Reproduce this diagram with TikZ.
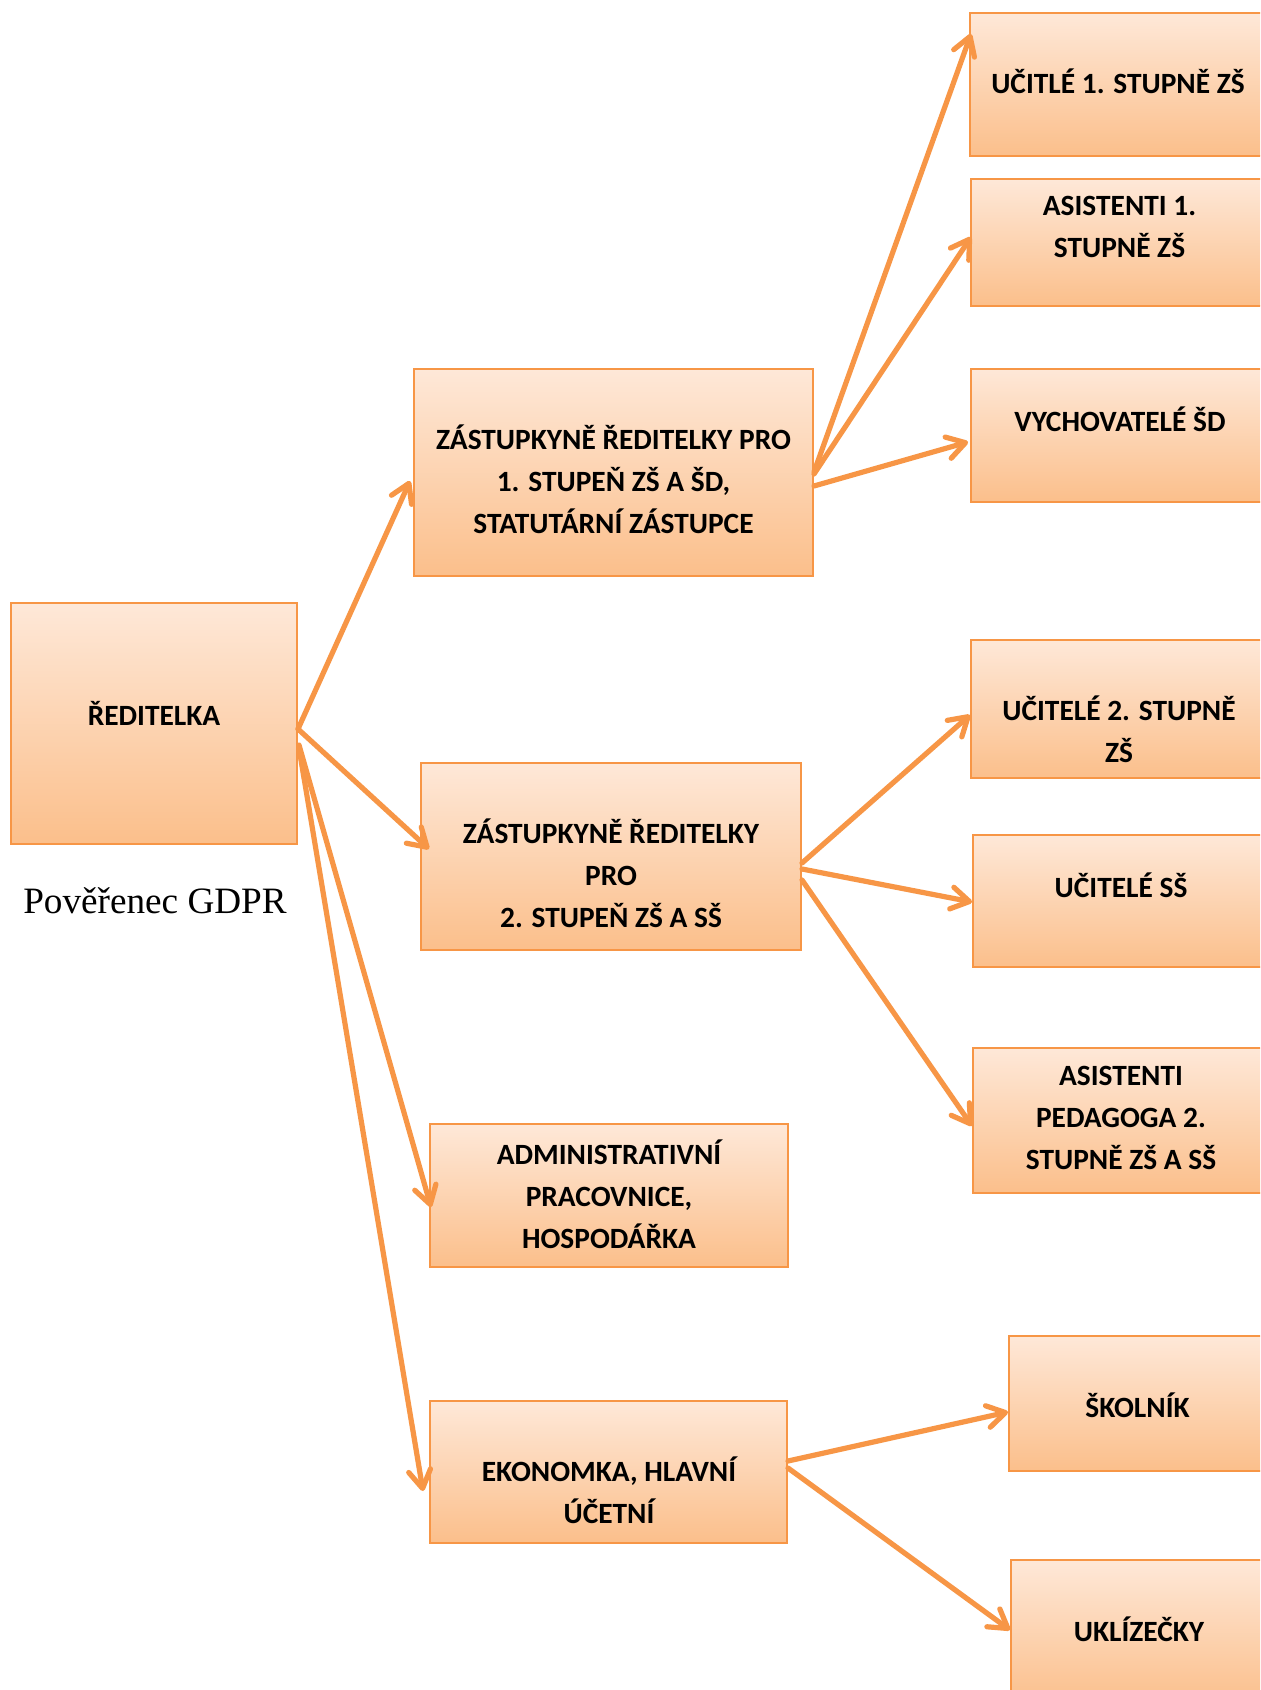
\documentclass[tikz,border=0pt]{standalone}
\usepackage{fontspec}
\setmainfont{Liberation Serif}
\newfontfamily\unitfont{Carlito}
\usetikzlibrary{arrows.meta, fit, calc}
\definecolor{orgline}{HTML}{F79646}
\definecolor{orgtop}{HTML}{FEE8D8}
\definecolor{orgbottom}{HTML}{FBBF8B}

\begin{document}
\begin{tikzpicture}[x=0.5pt, y=-0.5pt,
  unitbox/.style={draw=orgline, line width=1pt, top color=orgtop, bottom color=orgbottom, inner sep=0pt},
  unittext/.style={font=\unitfont\bfseries\fontsize{14.7}{21}\selectfont, align=center, inner sep=0pt},
  link/.style={draw=orgline, line width=2.6pt, line cap=round, -{Straight Barb[length=9pt, width=11pt, round]}}]
\useasboundingbox (0,0) rectangle (1260,1690);
\clip (0,0) rectangle (1260,1690);
\fill[white] (0,0) rectangle (1260,1690);

% boxes
\node[unitbox, fit={(11,603) (297,844)}] (red) {};
\node[unitbox, fit={(414,369) (813,576)}] (zast1) {};
\node[unitbox, fit={(421,763) (801,950)}] (zast2) {};
\node[unitbox, fit={(430,1124) (788,1267)}] (admin) {};
\node[unitbox, fit={(430,1401) (787,1543)}] (ekon) {};
\node[unitbox, fit={(970,13) (1268,156)}] (ucit1) {};
\node[unitbox, fit={(971,179) (1268,306)}] (asist1) {};
\node[unitbox, fit={(971,369) (1268,502)}] (vych) {};
\node[unitbox, fit={(971,640) (1268,778)}] (ucit2) {};
\node[unitbox, fit={(973,835) (1269,967)}] (ucitss) {};
\node[unitbox, fit={(973,1048) (1269,1193)}] (asped) {};
\node[unitbox, fit={(1009,1336) (1267,1471)}] (skol) {};
\node[unitbox, fit={(1011,1560) (1268,1705)}] (ukl) {};

% texts
\node[unittext] (redt) at (154,713) {ŘEDITELKA};
\node[unittext] (zast1t) at (613.5,479) {ZÁSTUPKYNĚ ŘEDITELKY PRO\\1. STUPEŇ ZŠ A ŠD,\\STATUTÁRNÍ ZÁSTUPCE};
\node[unittext] (zast2t) at (611,873) {ZÁSTUPKYNĚ ŘEDITELKY\\PRO\\2. STUPEŇ ZŠ A SŠ};
\node[unittext] (admint) at (609,1194) {ADMINISTRATIVNÍ\\PRACOVNICE,\\HOSPODÁŘKA};
\node[unittext] (ekont) at (609,1490) {EKONOMKA, HLAVNÍ\\ÚČETNÍ};
\node[unittext] (ucit1t) at (1118,81) {UČITLÉ 1. STUPNĚ ZŠ};
\node[unittext] (asist1t) at (1119.5,227) {ASISTENTI 1.\\STUPNĚ ZŠ};
\node[unittext] (vycht) at (1120,419) {VYCHOVATELÉ ŠD};
\node[unittext] (ucit2t) at (1119,729) {UČITELÉ 2. STUPNĚ\\ZŠ};
\node[unittext] (ucitsst) at (1121,885) {UČITELÉ SŠ};
\node[unittext] (aspedt) at (1121,1118) {ASISTENTI\\PEDAGOGA 2.\\STUPNĚ ZŠ A SŠ};
\node[unittext] (skolt) at (1137.5,1405) {ŠKOLNÍK};
\node[unittext] (uklt) at (1139,1629) {UKLÍZEČKY};
\node[font=\fontsize{18.6}{22}\selectfont, anchor=base, inner sep=0pt] (gdpr) at (155,913) {Pověřenec GDPR};

% arrows
\draw[link] ($(red.north east)+(0,127)$) -- ($(zast1.north west)+(-3,113)$);
\draw[link] ($(red.north east)+(0,127)$) -- ($(zast2.north west)+(9,87)$);
\draw[link] ($(red.north east)+(1,143)$) -- ($(admin.north west)+(2,84)$);
\draw[link] ($(red.north east)+(1,146)$) -- ($(ekon.north west)+(-6,91)$);
\draw[link] ($(zast1.north east)+(0,104)$) -- ($(ucit1.north west)+(2,22)$);
\draw[link] ($(zast1.north east)+(0,106)$) -- ($(asist1.north west)+(1,59)$);
\draw[link] ($(zast1.north east)+(0,118)$) -- ($(vych.north west)+(-2,74)$);
\draw[link] ($(zast2.north east)+(0,101)$) -- ($(ucit2.north west)+(0,76)$);
\draw[link] ($(zast2.north east)+(0,107)$) -- ($(ucitss.north west)+(0,68)$);
\draw[link] ($(zast2.north east)+(0,118)$) -- ($(asped.north west)+(0,79)$);
\draw[link] ($(ekon.north east)+(0,61)$) -- ($(skol.north west)+(0,77)$);
\draw[link] ($(ekon.north east)+(0,68)$) -- ($(ukl.north west)+(0,71)$);
\end{tikzpicture}
\end{document}
